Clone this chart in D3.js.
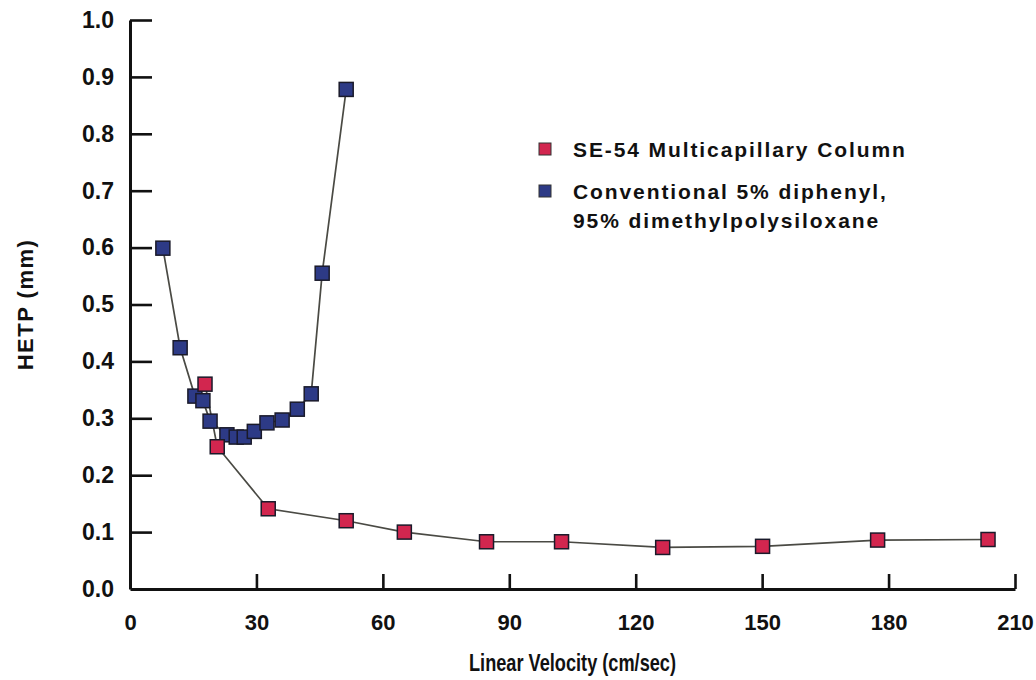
<!DOCTYPE html>
<html>
<head>
<meta charset="utf-8">
<script src="https://cdn.jsdelivr.net/npm/d3@7"></script>
<style>
  body { margin: 0; background: #fff; }
  text { font-family: "Liberation Sans", Arial, sans-serif; font-weight: bold; fill: #111; }
</style>
</head>
<body>
<div id="chart"></div>
<script>
// series (x = linear velocity cm/sec, y = HETP mm)
const seXs = [17.8, 20.7, 32.8, 51.3, 65.1, 84.6, 102.4, 126.4, 150.1, 177.4, 203.6];
const seYs = [0.360, 0.250, 0.141, 0.120, 0.100, 0.083, 0.083, 0.073, 0.075, 0.086, 0.087];

const convXs = [7.8, 11.9, 15.4, 17.3, 19.0, 23.0, 25.2, 27.1, 29.5, 32.5, 36.1, 39.7, 43.0, 45.6, 51.3];
const convYs = [0.599, 0.424, 0.339, 0.331, 0.295, 0.271, 0.267, 0.267, 0.277, 0.292, 0.297, 0.316, 0.343, 0.555, 0.878];

const xTicks = [0, 30, 60, 90, 120, 150, 180, 210];
const yTicks = [0, 0.1, 0.2, 0.3, 0.4, 0.5, 0.6, 0.7, 0.8, 0.9, 1.0];

const legendLabels = [["SE-54 Multicapillary Column"], ["Conventional 5% diphenyl,", "95% dimethylpolysiloxane"]];
const seriesColors = ["#d2264f", "#2d3a86"];

const width = 1036, height = 680;
const margin = { top: 20, left: 130, right: 21, bottom: 91 };

let svg = d3.select("#chart").append("svg")
  .attr("width", width)
  .attr("height", height);

let x = d3.scaleLinear().domain([0, 210]).range([margin.left, width - margin.right]);
let y = d3.scaleLinear().domain([0, 1]).range([height - margin.bottom, margin.top]);

// x axis - ticks point up into the plot
let xAxis = svg.append("g")
  .attr("transform", "translate(0," + y(0) + ")")
  .call(d3.axisBottom(x).tickValues(xTicks).tickSizeInner(-15).tickSizeOuter(0).tickPadding(25).tickFormat(d3.format("d")));

// y axis - ticks point right
let yAxis = svg.append("g")
  .attr("transform", "translate(" + x(0) + ",0)")
  .call(d3.axisLeft(y).tickValues(yTicks).tickSizeInner(-22).tickSizeOuter(0).tickPadding(16).tickFormat(d3.format(".1f")));

[xAxis, yAxis].forEach(function (g) {
  g.select(".domain").attr("stroke", "#111").attr("stroke-width", 3);
  g.selectAll(".tick line").attr("stroke", "#111").attr("stroke-width", 2.6);
  g.selectAll(".tick text").attr("font-family", null).attr("fill", "#111");
});
xAxis.selectAll(".tick text").attr("font-size", 22);
yAxis.selectAll(".tick text").attr("font-size", 23);
yAxis.selectAll(".tick").filter(d => d === 0).select("line").remove();

// axis titles (x title is a bit condensed in the original)
svg.append("text")
  .attr("transform", "translate(" + x(105) + ",671) scale(0.79,1)")
  .attr("text-anchor", "middle")
  .attr("font-size", 23)
  .text("Linear Velocity (cm/sec)");

svg.append("text")
  .attr("transform", "translate(33," + y(0.5) + ") rotate(-90)")
  .attr("text-anchor", "middle")
  .attr("font-size", 22)
  .attr("letter-spacing", 1.5)
  .text("HETP (mm)");

// lines + markers
let series = [
  d3.zip(convXs, convYs),
  d3.zip(seXs, seYs)
];
let colors = [seriesColors[1], seriesColors[0]];

let line = d3.line().x(d => x(d[0])).y(d => y(d[1]));

series.forEach(function (pts) {
  svg.append("path")
    .attr("d", line(pts))
    .attr("fill", "none")
    .attr("stroke", "#4a4a44")
    .attr("stroke-width", 1.7);
});

const mk = 14;
series.forEach(function (pts, i) {
  svg.append("g").selectAll("rect").data(pts).enter().append("rect")
    .attr("x", d => x(d[0]) - mk / 2)
    .attr("y", d => y(d[1]) - mk / 2)
    .attr("width", mk)
    .attr("height", mk)
    .attr("fill", colors[i])
    .attr("stroke", "#1a1a2a")
    .attr("stroke-width", 1.5);
});

// legend
let legend = svg.append("g").attr("transform", "translate(545,149)");
legendLabels.forEach(function (lines, i) {
  let g = legend.append("g").attr("transform", "translate(0," + (i * 42) + ")");
  g.append("rect")
    .attr("x", -6).attr("y", -6).attr("width", 12).attr("height", 12)
    .attr("fill", seriesColors[i]).attr("stroke", "#333").attr("stroke-width", 1);
  lines.forEach(function (t, j) {
    g.append("text")
      .attr("x", 28).attr("y", 8 + j * 29)
      .attr("font-size", 21)
      .attr("letter-spacing", 1.9)
      .text(t);
  });
});
</script>
</body>
</html>
